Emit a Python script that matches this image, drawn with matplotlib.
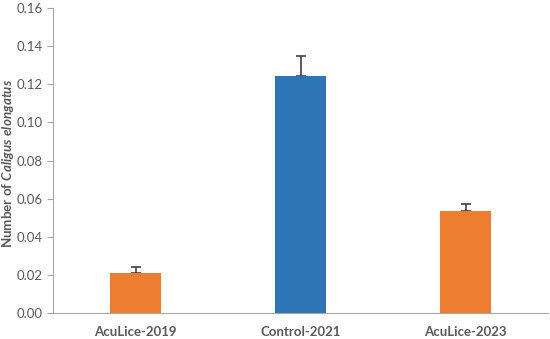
import numpy as np
import matplotlib
matplotlib.use("Agg")
import matplotlib.pyplot as plt

plt.rcParams["font.family"] = "Lato"
plt.rcParams["mathtext.fontset"] = "custom"
plt.rcParams["mathtext.bfit"] = "Lato:italic:bold"
plt.rcParams["mathtext.it"] = "Lato:italic"
plt.rcParams["mathtext.rm"] = "Lato"

groups = ["AcuLice-2019", "Control-2021", "AcuLice-2023"]
means = [0.021, 0.1245, 0.0535]
errors = [0.0033, 0.0105, 0.0038]
colors = ["#ED7D31", "#2E75B6", "#ED7D31"]

TXT = "#595959"
AX = "#A6A6A6"

fig = plt.figure(figsize=(5.5, 3.39), dpi=100)
ax = fig.add_axes([53 / 550, 1 - 313 / 339, 495 / 550, 305 / 339])

x = np.arange(len(groups))
ax.bar(x, means, width=0.31, color=colors, zorder=2)
# error bars sit behind the bars so only the upper whisker shows
ax.errorbar(x, means, yerr=[np.zeros(3), errors], fmt="none",
            ecolor="#404040", elinewidth=1.2, capsize=3.5, capthick=1.2, zorder=1)

ax.set_xlim(-0.5, 2.5)
ax.set_ylim(0, 0.16)
ax.set_yticks(np.arange(0, 0.161, 0.02))
ax.set_yticklabels([f"{v:.2f}" for v in np.arange(0, 0.161, 0.02)])
ax.set_xticks(x)
ax.set_xticklabels(groups, fontweight="bold")

for s in ["top", "right"]:
    ax.spines[s].set_visible(False)
ax.spines["left"].set_color(AX)
ax.spines["bottom"].set_color(AX)
ax.tick_params(axis="y", colors=AX, labelcolor=TXT, labelsize=9.5, length=4)
ax.tick_params(axis="x", length=0, labelcolor=TXT, labelsize=9.5, pad=9)

ax.set_ylabel(r"Number of $\mathbfit{Caligus\ elongatus}$", fontweight="bold",
              color=TXT, fontsize=9.6)
ax.yaxis.set_label_coords(-0.074, 0.49)

plt.savefig("out.png", dpi=100)
